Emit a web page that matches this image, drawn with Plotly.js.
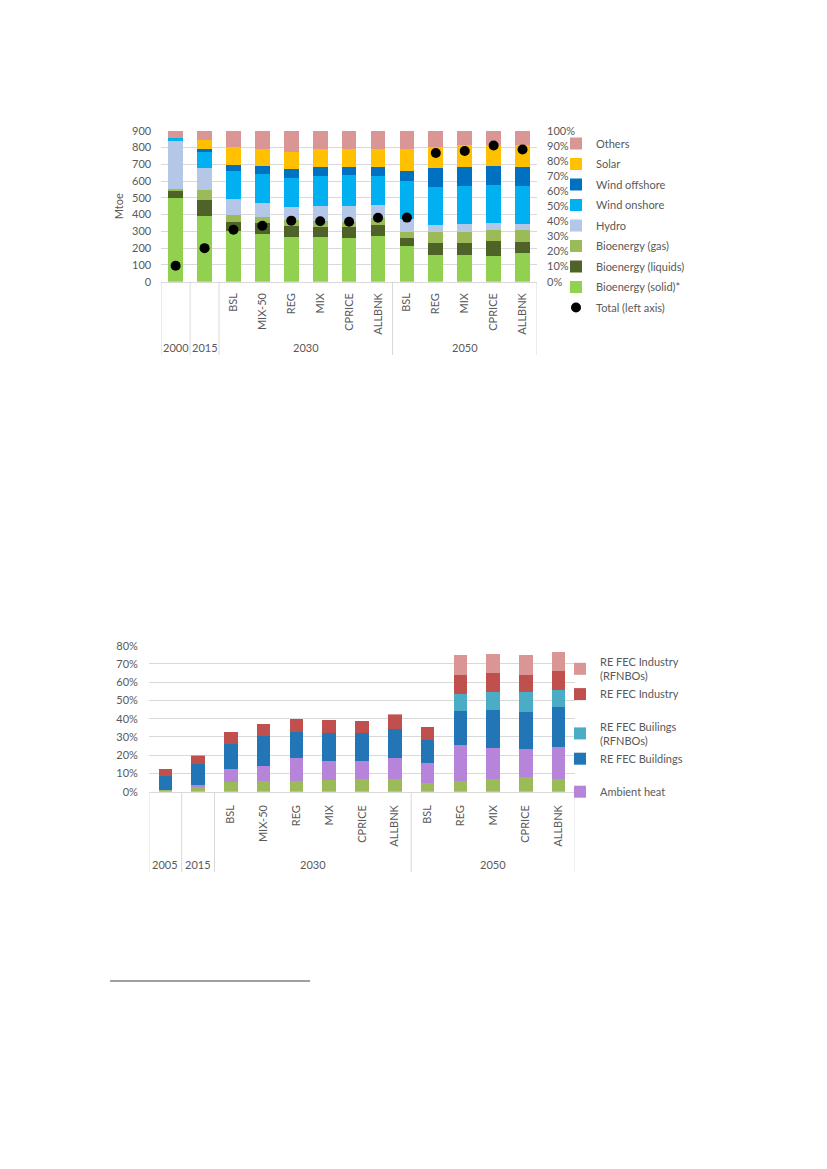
<!DOCTYPE html>
<html>
<head>
<meta charset="utf-8">
<script src="https://cdn.plot.ly/plotly-3.0.1.min.js"></script>
<style>
  html, body { margin: 0; padding: 0; background: #ffffff; }
  #chart { width: 827px; height: 1169px; }
</style>
</head>
<body>
<div id="chart"></div>
<script>
// ---------- Top chart data (share of RES, %; total in Mtoe) ----------
const years1 = ['2000','2015','2030','2030','2030','2030','2030','2030','2050','2050','2050','2050','2050'];
const scenarios1 = ['','','BSL','MIX-50','REG','MIX','CPRICE','ALLBNK','BSL','REG','MIX','CPRICE','ALLBNK'];
const bioSolid   = [55.6,43.7,33.3,31.7,29.8,29.6,28.9,30.2,23.7,17.8,17.7,17.2,19.0];
const bioLiquids = [4.4,10.4,6.5,7.0,7.1,6.8,7.1,7.3,5.4,7.9,7.9,9.5,7.5];
const bioGas     = [1.4,6.6,4.4,4.0,3.7,3.8,3.7,4.4,4.1,7.3,7.5,7.5,7.5];
const hydro      = [32.0,14.3,10.5,9.6,9.1,9.9,10.4,8.7,8.2,4.5,5.1,4.4,4.4];
const windOnshore  = [1.6,11.0,18.6,18.8,19.3,19.9,20.5,19.6,25.3,25.2,25.2,25.4,25.0];
const windOffshore = [0.1,2.0,4.2,5.3,5.5,5.9,5.3,5.7,6.6,12.6,12.5,12.6,12.8];
const solar      = [0.1,5.8,12.0,11.6,11.2,12.2,12.2,12.2,14.5,13.7,14.6,13.9,14.3];
const others     = [4.8,6.2,10.5,12.0,14.3,11.9,11.9,11.9,12.2,11.0,9.5,9.5,9.5];
const totalMtoe  = [95,200,310,333,364,360,357,381,382,767,779,812,788];

// ---------- Bottom chart data (share, %) ----------
const years2 = ['2005','2015','2030','2030','2030','2030','2030','2030','2050','2050','2050','2050','2050'];
const scenarios2 = ['','','BSL','MIX-50','REG','MIX','CPRICE','ALLBNK','BSL','REG','MIX','CPRICE','ALLBNK'];
const reOther        = [0.9,2.6,5.3,5.7,5.8,6.6,6.8,6.9,4.7,5.7,6.9,7.9,6.8];
const ambientHeat    = [0,1.2,6.9,8.5,12.8,10.2,10.0,11.7,10.8,19.9,17.2,15.5,17.7];
const fecBuildings   = [7.9,11.4,13.9,16.5,14.1,15.3,15.3,15.7,13.0,18.8,20.8,20.4,21.9];
const fecBuildingsRF = [0,0,0,0,0,0,0,0,0,8.9,9.9,10.6,9.1];
const fecIndustry    = [3.4,4.5,6.6,6.4,7.1,7.2,6.6,7.7,6.9,10.8,10.4,9.7,10.8];
const fecIndustryRF  = [0.3,0.4,0,0,0,0,0,0.6,0,11.0,10.2,10.8,10.2];

// ---------- helpers ----------
const W = 827, H = 1169;
const px = v => v / W;
const py = v => 1 - v / H;
const FONT = 'Lato, "Open Sans", sans-serif';
const GREY = '#595959';
const LINE = '#d9d9d9';

const idx1 = scenarios1.map((_, i) => i);
const idx2 = scenarios2.map((_, i) => i);

function groups(years) {
  const g = [];
  years.forEach((y, i) => {
    if (g.length && g[g.length - 1].year === y) g[g.length - 1].end = i;
    else g.push({ year: y, start: i, end: i });
  });
  return g;
}

const traces = [];
// Total dots (left axis, overlay so it is on top)
traces.push({
  type: 'scatter', mode: 'markers', name: 'Total (left axis)',
  x: idx1, y: totalMtoe, xaxis: 'x', yaxis: 'y2',
  marker: { color: '#000000', size: 10 },
  legend: 'legend', legendgroup: 'g9', legendrank: 9
});
const topSeries = [
  ['Bioenergy (solid)*', bioSolid, '#92d050'],
  ['Bioenergy (liquids)', bioLiquids, '#4f6228'],
  ['Bioenergy (gas)', bioGas, '#9bbb59'],
  ['Hydro', hydro, '#b4c7e7'],
  ['Wind onshore', windOnshore, '#00b0f0'],
  ['Wind offshore', windOffshore, '#0070c0'],
  ['Solar', solar, '#ffc000'],
  ['Others', others, '#d99694']
];
topSeries.forEach(([name, vals, col], k) => {
  traces.push({
    type: 'bar', name: name, x: idx1, y: vals, xaxis: 'x', yaxis: 'y',
    width: 0.51, marker: { color: col, line: { width: 0 } },
    legend: 'legend', legendgroup: 'g' + k, legendrank: 8 - k
  });
});

const botSeries = [
  ['RE (other)', reOther, '#9bbb59', false, 'amb', 6],
  ['Ambient heat', ambientHeat, '#b685d9', true, 'amb', 5],
  ['RE FEC Buildings', fecBuildings, '#2276b5', true, 'bld', 4],
  ['RE FEC Builings<br>(RFNBOs)', fecBuildingsRF, '#4bacc6', true, 'bld', 3],
  ['RE FEC Industry', fecIndustry, '#c0504d', true, 'ind', 2],
  ['RE FEC Industry<br>(RFNBOs)', fecIndustryRF, '#d99694', true, 'ind', 1]
];
botSeries.forEach(([name, vals, col, show, grp, rank]) => {
  traces.push({
    type: 'bar', name: name, x: idx2, y: vals, xaxis: 'x2', yaxis: 'y3',
    width: 0.41, marker: { color: col, line: { width: 0 } },
    showlegend: show, legend: 'legend2', legendgroup: grp, legendrank: rank
  });
});

// dividers and year labels
const shapes = [];
const annotations = [];
function addGroupAxis(years, xref, yTop, yBottom, yLabel) {
  const g = groups(years);
  const bounds = [-0.5].concat(g.map(o => o.end + 0.5));
  bounds.forEach(b => shapes.push({
    type: 'line', xref: xref, yref: 'paper', x0: b, x1: b,
    y0: py(yBottom), y1: py(yTop), line: { color: LINE, width: 1 }
  }));
  g.forEach(o => annotations.push({
    xref: xref, yref: 'paper', x: (o.start + o.end) / 2, y: py(yLabel),
    text: o.year, showarrow: false, xanchor: 'center', yanchor: 'middle',
    font: { family: FONT, size: 11, color: GREY }
  }));
}
addGroupAxis(years1, 'x', 281.7, 355, 348);
addGroupAxis(years2, 'x2', 791.7, 872, 864);

// footnote rule
shapes.push({
  type: 'line', xref: 'paper', yref: 'paper', x0: px(110), x1: px(310),
  y0: py(981), y1: py(981), line: { color: '#7f7f7f', width: 1.5 }
});

const tickFont = { family: FONT, size: 11, color: GREY };

const layout = {
  width: W, height: H,
  margin: { l: 0, r: 0, t: 0, b: 0 },
  paper_bgcolor: '#ffffff', plot_bgcolor: 'rgba(0,0,0,0)',
  barmode: 'stack',
  showlegend: true,
  font: { family: FONT, size: 11, color: GREY },
  xaxis: {
    domain: [px(161.2), px(537)], anchor: 'y',
    range: [-0.5, 12.5], tickvals: idx1, ticktext: scenarios1,
    tickangle: -90, tickfont: tickFont, ticks: '', showgrid: false,
    zeroline: false, showline: true, linecolor: LINE, linewidth: 1,
    ticklabelstandoff: 6
  },
  yaxis: {
    domain: [py(281.7), py(130.7)], anchor: 'x', side: 'right',
    range: [0, 100], dtick: 10, ticksuffix: '%', showgrid: false,
    zeroline: false, showline: false, ticks: '', tickfont: tickFont,
    ticklabelstandoff: 9
  },
  yaxis2: {
    overlaying: 'y', side: 'left', anchor: 'x',
    range: [0, 900], dtick: 100, showgrid: true, gridcolor: LINE, gridwidth: 1,
    zeroline: false, showline: false, ticks: '', tickfont: tickFont,
    ticklabelstandoff: 9,
    title: { text: 'Mtoe', font: { family: FONT, size: 11, color: GREY }, standoff: 6 }
  },
  xaxis2: {
    domain: [px(148.9), px(575.1)], anchor: 'y3',
    range: [-0.5, 12.5], tickvals: idx2, ticktext: scenarios2,
    tickangle: -90, tickfont: tickFont, ticks: '', showgrid: false,
    zeroline: false, showline: true, linecolor: LINE, linewidth: 1,
    ticklabelstandoff: 8
  },
  yaxis3: {
    domain: [py(791.7), py(645.7)], anchor: 'x2',
    range: [0, 80], dtick: 10, ticksuffix: '%', showgrid: true,
    gridcolor: LINE, gridwidth: 1, zeroline: false, showline: false,
    ticks: '', tickfont: tickFont, ticklabelstandoff: 10
  },
  legend: {
    x: px(556), y: py(129), xanchor: 'left', yanchor: 'top',
    traceorder: 'grouped', tracegroupgap: 1.5,
    font: { family: FONT, size: 11, color: GREY },
    bgcolor: 'rgba(0,0,0,0)', borderwidth: 0
  },
  legend2: {
    x: px(560), y: py(648), xanchor: 'left', yanchor: 'top',
    traceorder: 'grouped', tracegroupgap: 14,
    font: { family: FONT, size: 11, color: GREY },
    bgcolor: 'rgba(0,0,0,0)', borderwidth: 0
  },
  shapes: shapes,
  annotations: annotations
};

Plotly.newPlot('chart', traces, layout, { staticPlot: true, displayModeBar: false });
</script>
</body>
</html>
